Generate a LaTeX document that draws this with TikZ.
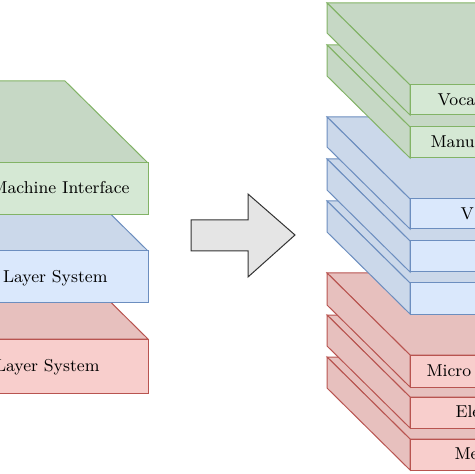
\documentclass[tikz,border=0pt]{standalone}
\usepackage{tikz}
\usepackage{color}

\definecolor{grnfill}{HTML}{D5E8D4}
\definecolor{grnline}{HTML}{82B366}
\definecolor{blufill}{HTML}{DAE8FC}
\definecolor{bluline}{HTML}{6C8EBF}
\definecolor{redfill}{HTML}{F8CECC}
\definecolor{redline}{HTML}{B85450}

% one layer: front left x, front right x, front top y, height, fill, line
\newcommand{\slab}[6]{%
  \draw[fill=#5!93!black,draw=#6] (#1,#3) -- (#2,#3) -- ++(-83,-82) -- ++({#1-#2},0) -- cycle;
  \draw[fill=#5!93!black,draw=#6] (#1,#3) -- ++(-83,-82) -- ++(0,#4) -- ++(83,82) -- cycle;
  \draw[fill=#5,draw=#6] (#1,#3) rectangle (#2,{#3+#4});
}

\begin{document}
\begin{tikzpicture}[x=0.5pt, y=-0.5pt, line width=0.5pt, line join=miter,
  every node/.style={inner sep=0pt, font=\fontsize{8.6}{10}\selectfont}]
\useasboundingbox (0,0) rectangle (474,474);

% left stack
\slab{-60}{148}{339}{54}{redfill}{redline}
\slab{-60}{148}{251}{52}{blufill}{bluline}
\slab{-60}{148}{163}{52}{grnfill}{grnline}

\node (hmi) [anchor=east] at (130,188) {Machine Interface};
\node (hwsys) [anchor=east] at (108,278) {Layer System};
\node (lowsys) [anchor=east] at (100,367) {Layer System};

% arrow
\draw[fill=black!10,draw=black!80] (191,220) -- (248,220) -- (248,194) -- (295,235)
  -- (248,277) -- (248,251) -- (191,251) -- cycle;

% right stack
\slab{410}{560}{439}{31}{redfill}{redline}
\slab{410}{560}{397}{31}{redfill}{redline}
\slab{410}{560}{355}{32}{redfill}{redline}
\slab{410}{560}{283}{31}{blufill}{bluline}
\slab{410}{560}{241}{31}{blufill}{bluline}
\slab{410}{560}{199}{30}{blufill}{bluline}
\slab{410}{560}{127}{31}{grnfill}{grnline}
\slab{410}{560}{85}{30}{grnfill}{grnline}

\node (voc) [anchor=west] at (437,100) {Voca};
\node (man) [anchor=west] at (430,142) {Manu};
\node (vis) [anchor=west] at (460,214) {V};
\node (mic) [anchor=west] at (426,371) {Micro};
\node (ele) [anchor=west] at (455,412) {Ele};
\node (mec) [anchor=west] at (454,454) {Me};

\end{tikzpicture}
\end{document}
